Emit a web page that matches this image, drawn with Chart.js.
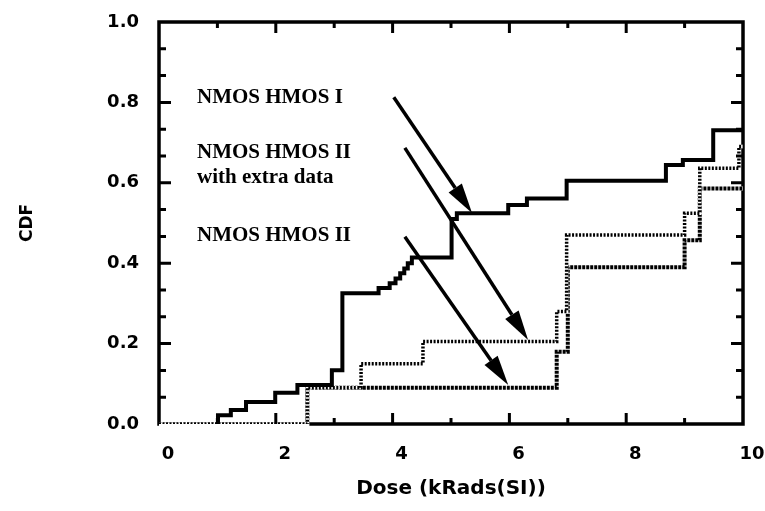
<!DOCTYPE html>
<html>
<head>
<meta charset="utf-8">
<script src="https://cdn.jsdelivr.net/npm/chart.js@4.4.0/dist/chart.umd.min.js"></script>
<style>
  html, body { margin: 0; padding: 0; background: #fff; }
</style>
</head>
<body>
<canvas id="grafico-cdf" width="765" height="511"></canvas>
<script>
// dose (kRads(Si)) where each step starts, and the CDF level from there on
const doseHmosI = [0.98, 1.01, 1.23, 1.49, 1.99, 2.37, 2.96, 3.14, 3.76, 3.95, 4.05, 4.13, 4.2, 4.26, 4.33, 5.01, 5.1, 5.98, 6.3, 6.98, 8.68, 8.97, 9.49, 10];
const cdfHmosI = [0, 0.022, 0.035, 0.055, 0.078, 0.097, 0.134, 0.325, 0.338, 0.35, 0.362, 0.375, 0.387, 0.4, 0.414, 0.51, 0.524, 0.545, 0.561, 0.605, 0.644, 0.657, 0.731, 0.731];

const doseHmosIIExtra = [0, 2.54, 3.46, 4.52, 6.81, 6.98, 9.0, 9.26, 9.93, 10];
const cdfHmosIIExtra = [0, 0.09, 0.15, 0.205, 0.28, 0.47, 0.524, 0.636, 0.69, 0.69];

const doseHmosII = [0, 2.54, 6.81, 7.0, 9.0, 9.26, 10];
const cdfHmosII = [0, 0.09, 0.18, 0.39, 0.457, 0.586, 0.586];

const xTickValues = [0, 2, 4, 6, 8, 10];
const yTickValues = [0, 0.2, 0.4, 0.6, 0.8, 1.0];

// callout texts and arrows, in data units
const calloutTexts = ['NMOS HMOS I', 'NMOS HMOS II', 'with extra data', 'NMOS HMOS II'];
const calloutX = [0.65, 0.65, 0.65, 0.65];
const calloutY = [0.811, 0.675, 0.612, 0.468];
const arrowFrom = [[4.02, 0.813], [4.21, 0.687], [4.21, 0.466]];
const arrowTo = [[5.36, 0.525], [6.32, 0.209], [5.98, 0.097]];

const toPoints = (xs, ys) => xs.map((x, i) => ({ x: x, y: ys[i] }));

function drawArrow(ctx, x1, y1, x2, y2) {
    const ang = Math.atan2(y2 - y1, x2 - x1);
    const headLen = 30, headW = 8;
    const bx = x2 - headLen * Math.cos(ang);
    const by = y2 - headLen * Math.sin(ang);
    ctx.beginPath();
    ctx.moveTo(x1, y1);
    ctx.lineTo(bx, by);
    ctx.stroke();
    ctx.beginPath();
    ctx.moveTo(x2, y2);
    ctx.lineTo(bx + headW * Math.sin(ang), by - headW * Math.cos(ang));
    ctx.lineTo(bx - headW * Math.sin(ang), by + headW * Math.cos(ang));
    ctx.closePath();
    ctx.fill();
}

// box frame, inward ticks, white backing under the dotted curves, callouts
const marcoPlugin = {
    id: 'marco',
    beforeDatasetsDraw(chart) {
        const { ctx, chartArea: a } = chart;
        ctx.save();
        ctx.strokeStyle = '#000';
        ctx.lineWidth = 3.5;
        ctx.strokeRect(a.left, a.top, a.right - a.left, a.bottom - a.top);
        ctx.restore();
    },
    beforeDatasetDraw(chart, args) {
        const ds = chart.data.datasets[args.index];
        if (!ds.borderDash || !ds.borderDash.length) return;
        const pts = args.meta.data;
        const ctx = chart.ctx;
        ctx.save();
        ctx.strokeStyle = '#fff';
        ctx.lineWidth = ds.borderWidth;
        ctx.beginPath();
        ctx.moveTo(pts[0].x, pts[0].y);
        for (let i = 1; i < pts.length; i++) {
            ctx.lineTo(pts[i].x, pts[i - 1].y);
            ctx.lineTo(pts[i].x, pts[i].y);
        }
        ctx.stroke();
        ctx.restore();
    },
    afterDatasetsDraw(chart) {
        const { ctx, chartArea: a, scales: { x, y } } = chart;
        ctx.save();
        ctx.strokeStyle = '#000';
        ctx.fillStyle = '#000';
        ctx.lineWidth = 3;
        ctx.beginPath();
        for (let k = 1; k < 10; k++) {
            const px = x.getPixelForValue(k);
            const len = k % 2 === 0 ? 11 : 6;
            ctx.moveTo(px, a.bottom); ctx.lineTo(px, a.bottom - len);
            ctx.moveTo(px, a.top); ctx.lineTo(px, a.top + len);
        }
        for (let k = 1; k < 15; k++) {
            const py = y.getPixelForValue(k / 15);
            const len = k % 3 === 0 ? 12 : 7;
            ctx.moveTo(a.left, py); ctx.lineTo(a.left + len, py);
            ctx.moveTo(a.right, py); ctx.lineTo(a.right - len, py);
        }
        ctx.stroke();

        ctx.font = 'bold 21px "Liberation Serif"';
        ctx.textAlign = 'left';
        ctx.textBaseline = 'middle';
        calloutTexts.forEach((t, i) => {
            ctx.fillText(t, x.getPixelForValue(calloutX[i]), y.getPixelForValue(calloutY[i]));
        });

        ctx.lineWidth = 3.5;
        arrowFrom.forEach((f, i) => {
            drawArrow(ctx,
                x.getPixelForValue(f[0]), y.getPixelForValue(f[1]),
                x.getPixelForValue(arrowTo[i][0]), y.getPixelForValue(arrowTo[i][1]));
        });
        ctx.restore();
    }
};

const tickFont = { family: 'DejaVu Sans', weight: 'bold', size: 18 };

new Chart(document.getElementById('grafico-cdf').getContext('2d'), {
    type: 'line',
    data: {
        datasets: [{
            label: 'NMOS HMOS I',
            data: toPoints(doseHmosI, cdfHmosI),
            borderColor: '#000',
            borderWidth: 4,
            stepped: 'before',
            pointRadius: 0,
            fill: false
        }, {
            label: 'NMOS HMOS II with extra data',
            data: toPoints(doseHmosIIExtra, cdfHmosIIExtra),
            borderColor: '#000',
            borderWidth: 3.5,
            borderDash: [2, 1.5],
            stepped: 'before',
            pointRadius: 0,
            fill: false
        }, {
            label: 'NMOS HMOS II',
            data: toPoints(doseHmosII, cdfHmosII),
            borderColor: '#000',
            borderWidth: 4,
            borderDash: [3, 1],
            stepped: 'before',
            pointRadius: 0,
            fill: false
        }]
    },
    options: {
        responsive: false,
        animation: false,
        layout: { padding: { top: 22, right: 22, left: 0, bottom: 0 } },
        scales: {
            x: {
                type: 'linear',
                min: 0,
                max: 10,
                grid: { display: false, drawTicks: false },
                border: { display: false },
                afterBuildTicks: (scale) => { scale.ticks = xTickValues.map(v => ({ value: v })); },
                afterFit: (scale) => {
                    scale.height = 87;
                    scale.paddingLeft = 0;
                    scale.paddingRight = 0;
                },
                ticks: {
                    font: tickFont,
                    color: '#000',
                    padding: 20,
                    labelOffset: 9,
                    maxRotation: 0,
                    autoSkip: false,
                    callback: (v) => String(v)
                },
                title: {
                    display: true,
                    text: 'Dose (kRads(SI))',
                    color: '#000',
                    font: { family: 'DejaVu Sans', weight: 'bold', size: 20 },
                    padding: { top: 0, bottom: 10 }
                }
            },
            y: {
                min: 0,
                max: 1,
                grid: { display: false, drawTicks: false },
                border: { display: false },
                afterBuildTicks: (scale) => { scale.ticks = yTickValues.map(v => ({ value: v })); },
                afterFit: (scale) => {
                    scale.width = 159;
                    scale.paddingTop = 0;
                    scale.paddingBottom = 0;
                },
                ticks: {
                    font: tickFont,
                    color: '#000',
                    padding: 20,
                    callback: (v) => v.toFixed(1)
                },
                title: {
                    display: true,
                    text: 'CDF',
                    color: '#000',
                    font: { family: 'DejaVu Sans', weight: 'bold', size: 17 },
                    padding: { top: 17, bottom: 0 }
                }
            }
        },
        plugins: {
            legend: { display: false },
            tooltip: { enabled: false }
        }
    },
    plugins: [marcoPlugin]
});
</script>
</body>
</html>
